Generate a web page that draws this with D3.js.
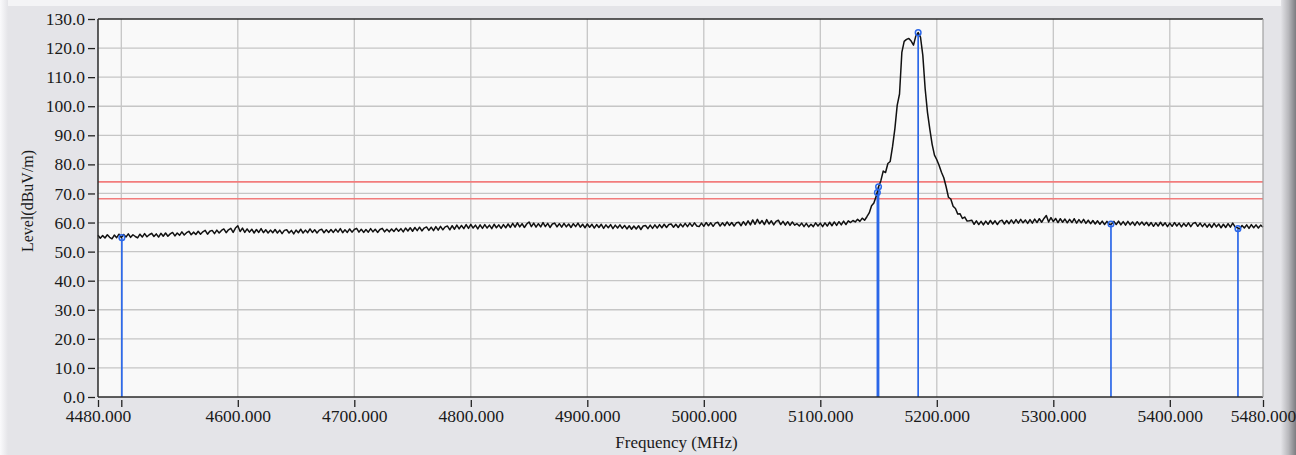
<!DOCTYPE html>
<html>
<head>
<meta charset="utf-8">
<script src="https://cdn.jsdelivr.net/npm/d3@7"></script>
<style>
  html, body { margin: 0; padding: 0; background: #e4e4e8; }
  svg { display: block; }
  text { font-family: "Liberation Serif", "DejaVu Serif", serif; fill: #1a1a1a; }
</style>
</head>
<body>
<svg id="chart" width="1296" height="455"></svg>
<script>
// Sweep definition: 4480 - 5480 MHz, 2 MHz per point
const sweepStart = 4480;
const sweepStep = 2;

// Measured level trace (dBuV/m), one row per 50 MHz
const traceLevels = [
  55.6, 54.6, 55.5, 54.7, 55.8, 54.9, 54.4, 55.7, 54.8, 56.0, 54.8, 55.9, 55.0, 56.1, 54.9, 55.8, 55.2, 54.7, 56.0, 55.0, 56.2, 55.1, 55.8, 56.3, 55.2,
  56.1, 55.0, 56.3, 55.3, 56.4, 55.3, 56.1, 56.6, 55.4, 56.4, 55.6, 56.8, 55.7, 56.5, 57.0, 55.8, 56.7, 55.9, 57.0, 56.0, 56.8, 57.3, 56.0, 57.0, 57.3,
  56.2, 57.4, 56.4, 57.3, 57.8, 56.5, 57.5, 58.0, 56.6, 58.1, 58.9, 56.9, 58.1, 56.6, 57.8, 56.7, 57.7, 56.4, 57.6, 56.6, 57.9, 56.5, 57.5, 56.4, 57.4,
  56.5, 57.6, 56.4, 57.4, 56.2, 57.3, 57.5, 56.4, 57.3, 56.1, 57.4, 56.5, 57.7, 56.4, 57.4, 56.5, 57.8, 56.6, 57.5, 56.4, 57.4, 57.7, 56.5, 57.5, 56.6,
  57.6, 56.6, 57.7, 56.7, 57.9, 56.5, 57.5, 56.6, 57.8, 56.7, 57.6, 58.0, 56.7, 57.7, 56.6, 57.6, 56.7, 57.9, 56.8, 57.7, 56.6, 57.6, 58.0, 56.8, 57.7,
  56.8, 57.8, 56.9, 58.0, 57.0, 57.9, 56.8, 58.1, 57.1, 58.2, 57.0, 58.3, 57.2, 58.4, 57.1, 58.1, 58.5, 57.3, 58.4, 57.2, 58.6, 57.4, 58.7, 57.5, 58.5,
  58.8, 57.5, 58.9, 57.7, 59.1, 57.8, 59.0, 57.9, 59.3, 58.0, 59.4, 58.1, 59.1, 57.8, 59.2, 58.0, 59.3, 58.1, 59.1, 57.9, 59.4, 58.2, 59.2, 58.0, 59.3,
  58.2, 59.5, 58.3, 59.7, 58.4, 59.9, 58.5, 59.6, 58.3, 59.5, 60.2, 58.6, 59.8, 58.4, 59.6, 58.5, 60.0, 58.6, 59.7, 58.3, 59.5, 59.8, 58.5, 59.6, 58.4,
  59.7, 58.5, 59.5, 58.3, 59.6, 58.6, 59.8, 58.4, 59.4, 58.2, 59.5, 58.4, 59.4, 58.1, 59.3, 58.3, 59.4, 58.0, 59.2, 58.2, 59.3, 57.9, 59.1, 58.1, 59.2,
  58.0, 59.0, 57.8, 58.9, 57.7, 58.8, 57.8, 58.9, 57.6, 58.8, 59.0, 57.9, 59.1, 58.0, 59.2, 58.1, 59.3, 58.2, 59.4, 58.3, 59.3, 59.5, 58.4, 59.4, 58.3,
  59.5, 58.5, 59.7, 58.6, 59.8, 58.7, 59.9, 58.8, 58.6, 59.8, 58.7, 60.0, 58.9, 59.9, 58.7, 59.8, 60.1, 58.8, 59.9, 58.9, 60.2, 59.0, 60.0, 58.8, 59.9,
  60.1, 58.9, 60.3, 59.1, 60.6, 59.2, 60.9, 59.4, 61.1, 59.6, 60.7, 59.3, 61.0, 59.5, 60.6, 59.2, 60.4, 60.8, 59.3, 60.4, 59.1, 60.3, 59.0, 60.2, 59.1,
  59.6, 58.8, 59.8, 58.6, 59.7, 58.5, 59.4, 58.6, 59.9, 58.8, 59.8, 58.6, 59.9, 58.8, 60.1, 58.9, 60.2, 59.0, 60.3, 59.2, 60.5, 59.3, 60.6, 60.0, 60.7,
  60.2, 61.1, 60.4, 61.5, 60.8, 62.0, 63.3, 65.8, 66.7, 69.1, 72.3, 74.4, 77.7, 77.2, 80.3, 81.0, 86.1, 92.2, 100.3, 104.2, 118.5, 122.3, 123.0, 123.3, 122.4,
  121.0, 124.2, 125.3, 123.8, 117.5, 106.0, 97.9, 92.1, 86.9, 83.2, 81.6, 79.6, 77.3, 75.4, 72.3, 68.7, 68.1, 65.6, 64.8, 62.9, 63.0, 61.4, 61.9, 60.5, 60.6,
  60.8, 59.4, 60.6, 59.3, 60.4, 59.2, 60.5, 59.4, 60.7, 59.5, 60.6, 59.3, 60.5, 60.8, 59.5, 60.7, 59.6, 60.9, 59.7, 61.0, 59.8, 61.1, 59.9, 60.9, 59.7,
  61.0, 59.8, 61.2, 60.0, 61.3, 60.1, 61.4, 62.4, 60.2, 61.7, 60.3, 61.4, 60.0, 61.3, 60.1, 61.2, 59.9, 61.1, 60.0, 61.3, 59.8, 61.0, 59.9, 61.1, 59.7,
  60.8, 59.6, 60.7, 59.5, 60.6, 59.4, 60.5, 59.3, 60.4, 59.4, 59.5, 60.4, 59.3, 60.5, 59.2, 60.3, 59.1, 60.4, 59.2, 60.2, 59.0, 60.3, 59.2, 60.2, 59.1,
  60.1, 58.9, 60.0, 58.7, 59.9, 58.8, 60.1, 58.9, 59.9, 58.6, 59.8, 58.7, 60.0, 58.8, 59.8, 58.5, 59.7, 58.7, 59.9, 58.6, 59.7, 60.0, 58.7, 59.8, 58.6,
  59.6, 58.4, 59.5, 58.3, 59.7, 58.5, 59.5, 58.2, 59.4, 58.3, 59.6, 58.4, 59.8, 58.5, 58.2, 57.8, 59.0, 58.1, 59.2, 58.0, 59.3, 58.2, 59.2, 58.1, 59.1,
  58.4
];

// Markers (frequency MHz, level dBuV/m)
const markerFreqs  = [4500.5, 5149.0, 5150.0, 5184.0, 5349.5, 5458.5];
const markerLevels = [54.8,   70.3,   72.3,   125.3,  59.5,   57.9];

// Limit lines (dBuV/m)
const limitLevels = [74.0, 68.2];

// Axis ticks
const yTicks = [0, 10, 20, 30, 40, 50, 60, 70, 80, 90, 100, 110, 120, 130];
const xGrid  = [4500, 4600, 4700, 4800, 4900, 5000, 5100, 5200, 5300, 5400];
const xTicks = [4480, 4500, 4600, 4700, 4800, 4900, 5000, 5100, 5200, 5300, 5400, 5480];
const xTickLabels = [4480, 4600, 4700, 4800, 4900, 5000, 5100, 5200, 5300, 5400, 5480];

const W = 1296, H = 455;
const plot = { left: 98, right: 1263, top: 19, bottom: 397 };

const svg = d3.select("#chart");

// Window background with light bevels
const defs = svg.append("defs");
const shade = defs.append("linearGradient").attr("id", "edgeShade").attr("x1", 0).attr("x2", 1);
shade.append("stop").attr("offset", 0).attr("stop-color", "#e2e2e6");
shade.append("stop").attr("offset", 0.5).attr("stop-color", "#b8b8bc");
shade.append("stop").attr("offset", 1).attr("stop-color", "#7c7c80");
const leftShade = defs.append("linearGradient").attr("id", "leftShade").attr("x1", 0).attr("x2", 1);
leftShade.append("stop").attr("offset", 0).attr("stop-color", "#fafafc");
leftShade.append("stop").attr("offset", 1).attr("stop-color", "#e4e4e8");

svg.append("rect").attr("width", W).attr("height", H).attr("fill", "#e4e4e8");
svg.append("rect").attr("x", 0).attr("y", 0).attr("width", W).attr("height", 6).attr("fill", "#f4f4f6");
svg.append("rect").attr("x", 0).attr("y", 0).attr("width", 8).attr("height", H).attr("fill", "url(#leftShade)");
svg.append("rect").attr("x", 1281).attr("y", 0).attr("width", 15).attr("height", H).attr("fill", "url(#edgeShade)");

const x = d3.scaleLinear().domain([4480, 5480]).range([plot.left, plot.right]);
const y = d3.scaleLinear().domain([0, 130]).range([plot.bottom, plot.top]);

// Plot area
svg.append("rect")
  .attr("x", plot.left).attr("y", plot.top)
  .attr("width", plot.right - plot.left).attr("height", plot.bottom - plot.top)
  .attr("fill", "#f9f9f9");

// Grid
const grid = svg.append("g").attr("stroke", "#c6c6c6").attr("stroke-width", 1.3);
grid.selectAll("line.h").data(yTicks.filter(v => v > 0 && v < 130)).join("line")
  .attr("x1", plot.left).attr("x2", plot.right)
  .attr("y1", d => y(d)).attr("y2", d => y(d));
grid.selectAll("line.v").data(xGrid).join("line")
  .attr("x1", d => x(d)).attr("x2", d => x(d))
  .attr("y1", plot.top).attr("y2", plot.bottom);

// Limit lines
svg.append("g").selectAll("line").data(limitLevels).join("line")
  .attr("x1", plot.left).attr("x2", plot.right)
  .attr("y1", d => y(d)).attr("y2", d => y(d))
  .attr("stroke", "#f27c7c").attr("stroke-width", 1.6);

// Marker stems
const markers = markerFreqs.map((f, i) => ({ f, v: markerLevels[i] }));
svg.append("g").selectAll("line").data(markers).join("line")
  .attr("x1", d => x(d.f)).attr("x2", d => x(d.f))
  .attr("y1", plot.bottom).attr("y2", d => y(d.v))
  .attr("stroke", "#2b67e8").attr("stroke-width", 1.7);

// Trace
const trace = traceLevels.map((v, i) => ({ f: sweepStart + i * sweepStep, v }));
svg.append("path")
  .datum(trace)
  .attr("fill", "none")
  .attr("stroke", "#111")
  .attr("stroke-width", 1.5)
  .attr("stroke-linejoin", "round")
  .attr("d", d3.line().x(d => x(d.f)).y(d => y(d.v)));

// Marker heads
svg.append("g").selectAll("circle").data(markers).join("circle")
  .attr("cx", d => x(d.f)).attr("cy", d => y(d.v)).attr("r", 2.8)
  .attr("fill", "none").attr("stroke", "#2b67e8").attr("stroke-width", 1.5);

// Frame
const frame = svg.append("g").attr("stroke", "#2a2a2a").attr("stroke-width", 1.5);
frame.append("line").attr("x1", plot.left).attr("x2", plot.left).attr("y1", plot.top).attr("y2", plot.bottom);
frame.append("line").attr("x1", plot.left).attr("x2", plot.right).attr("y1", plot.bottom).attr("y2", plot.bottom);
frame.append("line").attr("x1", plot.left).attr("x2", plot.right).attr("y1", plot.top).attr("y2", plot.top);
svg.append("line").attr("x1", plot.right).attr("x2", plot.right).attr("y1", plot.top).attr("y2", plot.bottom)
  .attr("stroke", "#a0a0a0").attr("stroke-width", 1.2);

// Y axis
const yAxis = svg.append("g")
  .attr("transform", `translate(${plot.left - 3},0)`)
  .call(d3.axisLeft(y).tickValues(yTicks).tickFormat(d3.format(".1f")).tickSizeInner(7).tickSizeOuter(0).tickPadding(3));
yAxis.select(".domain").remove();
yAxis.selectAll(".tick line").attr("stroke", "#222").attr("stroke-width", 1.3);
yAxis.selectAll(".tick text").attr("font-size", "17.5px").attr("fill", "#1a1a1a")
  .style("font-family", "'Liberation Serif', serif");

// X axis
const xAxis = svg.append("g")
  .attr("transform", `translate(0,${plot.bottom + 3})`)
  .call(d3.axisBottom(x).tickValues(xTicks)
    .tickFormat(d => xTickLabels.includes(d) ? d3.format(".3f")(d) : "")
    .tickSizeInner(7).tickSizeOuter(0).tickPadding(3));
xAxis.select(".domain").remove();
xAxis.selectAll(".tick line").attr("stroke", "#222").attr("stroke-width", 1.3);
xAxis.selectAll(".tick text").attr("font-size", "17.5px").attr("fill", "#1a1a1a")
  .style("font-family", "'Liberation Serif', serif");

// Axis titles
svg.append("text")
  .attr("x", (plot.left + plot.right) / 2 - 4).attr("y", 448)
  .attr("text-anchor", "middle").attr("font-size", "17px")
  .text("Frequency (MHz)");
svg.append("text")
  .attr("transform", "translate(33,201) rotate(-90)")
  .attr("text-anchor", "middle").attr("font-size", "16px")
  .text("Level(dBuV/m)");
</script>
</body>
</html>
